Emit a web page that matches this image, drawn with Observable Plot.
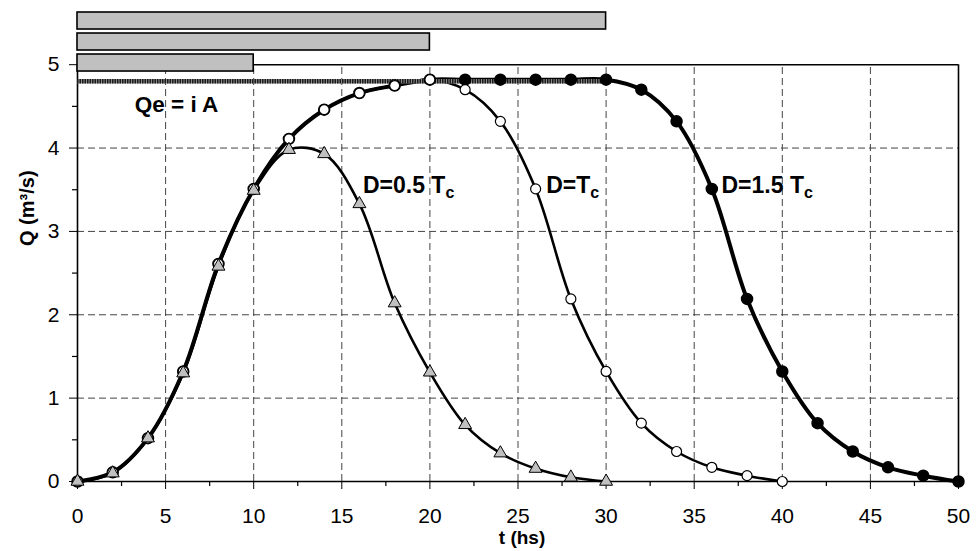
<!DOCTYPE html>
<html><head><meta charset="utf-8">
<script src="https://cdn.jsdelivr.net/npm/d3@7"></script>
<script src="https://cdn.jsdelivr.net/npm/@observablehq/plot@0.6"></script>
<style>
body{margin:0;background:#fff}
#chart svg{font-family:"Liberation Sans", Arial, sans-serif}
</style>
</head><body><div id="chart"></div>
<script>
// ---- data ----
const tHalf = [0,2,4,6,8,10,12,14,16,18,20,22,24,26,28,30];
const qHalf = [0,0.10,0.52,1.30,2.58,3.49,3.98,3.93,3.33,2.14,1.31,0.68,0.34,0.155,0.05,0];
const tFull = [0,2,4,6,8,10,12,14,16,18,20,22,24,26,28,30,32,34,36,38,40];
const qFull = [0,0.11,0.52,1.32,2.61,3.51,4.11,4.46,4.66,4.75,4.82,4.70,4.32,3.51,2.19,1.32,0.70,0.36,0.17,0.07,0];
const tLong = [0,2,4,6,8,10,12,14,16,18,20,22,24,26,28,30,32,34,36,38,40,42,44,46,48,50];
const qLong = [0,0.11,0.52,1.32,2.61,3.51,4.11,4.46,4.66,4.75,4.82,4.82,4.82,4.82,4.82,4.82,4.70,4.32,3.51,2.19,1.32,0.70,0.36,0.17,0.07,0];
const rainDur = [10, 20, 30];
const qe = 4.8;
const qeLabel = "Qe = i A";
const curveLabels = ["D=0.5 T", "D=T", "D=1.5 T"];
const curveSub = "c";
const xTicks = [0,5,10,15,20,25,30,35,40,45,50];
const yTicks = [0,1,2,3,4,5];
const xTitle = "t (hs)";
const yTitle = "Q (m³/s)";

// ---- layout / annotation placement ----
const labelPos = [{t:16.2,q:3.55},{t:26.6,q:3.55},{t:36.55,q:3.55}];
const qePos = {t:5.62, q:4.52};
const rainBase = 4.918, rainH = 0.204, rainStep = 0.252;
const yPx = 5.65/471, xPx = 50/881;

const half = tHalf.map((t,i)=>({t,q:qHalf[i]}));
const full = tFull.map((t,i)=>({t,q:qFull[i]}));
const long = tLong.map((t,i)=>({t,q:qLong[i]}));
const rain = rainDur.map((d,i)=>({d, y1:rainBase+i*rainStep, y2:rainBase+i*rainStep+rainH}));
const labels = curveLabels.map((s,i)=>({s, t:labelPos[i].t, q:labelPos[i].q}));
const xMinor = d3.range(2.5, 50, 5);
const yMinor = d3.range(0.5, 5, 1);

const chart = Plot.plot({
  width: 976, height: 551,
  marginLeft: 77, marginRight: 18, marginTop: 10, marginBottom: 70,
  style: {fontFamily: "Liberation Sans, Arial, sans-serif", fontSize: "21px", color: "#000", background: "#fff", overflow: "visible"},
  x: {domain: [0,50], ticks: xTicks, tickSize: 8, tickPadding: 19, tickFormat: d => String(d), label: null},
  y: {domain: [0,5.65], ticks: yTicks, tickSize: 8, tickPadding: 10, tickFormat: d => String(d), label: null},
  marks: [
    // grid
    Plot.ruleX(xTicks.slice(1,-1), {y1: 0, y2: 5, stroke: "#444", strokeDasharray: "7,4", strokeWidth: 1}),
    Plot.ruleY(yTicks.slice(1,-1), {x1: 0, x2: 50, stroke: "#444", strokeDasharray: "7,4", strokeWidth: 1}),
    // minor ticks
    Plot.ruleX(xMinor, {y1: 0, y2: -5*yPx, stroke: "#000", strokeWidth: 1.2}),
    Plot.ruleY(yMinor, {x1: 0, x2: -5*xPx, stroke: "#000", strokeWidth: 1.2}),
    // frame
    Plot.ruleY([0, 5], {x1: 0, x2: 50, stroke: "#000", strokeWidth: 1.6}),
    Plot.ruleX([0, 50], {y1: 0, y2: 5, stroke: "#000", strokeWidth: 1.6}),
    // curves
    Plot.line(long, {x: "t", y: "q", curve: "catmull-rom", stroke: "#000", strokeWidth: 4}),
    Plot.line(full, {x: "t", y: "q", curve: "catmull-rom", stroke: "#000", strokeWidth: 2.6}),
    Plot.line(half, {x: "t", y: "q", curve: "catmull-rom", stroke: "#000", strokeWidth: 2.6}),
    // Qe line
    Plot.ruleY([qe], {x1: 0, x2: d3.max(rainDur), stroke: "#8a8a8a", strokeWidth: 4.5}),
    Plot.ruleY([qe], {x1: 0, x2: d3.max(rainDur), stroke: "#1a1a1a", strokeWidth: 4.5, strokeDasharray: "1.5,1"}),
    // rain bars
    Plot.rect(rain, {x1: 0, x2: "d", y1: "y1", y2: "y2", fill: "#c0c0c0", stroke: "#000", strokeWidth: 1.6}),
    // markers
    Plot.dot(long, {x: "t", y: "q", r: 5.5, fill: "#000", stroke: "#000"}),
    Plot.dot(full, {x: "t", y: "q", r: 5, fill: "#fff", stroke: "#000", strokeWidth: 1.2}),
    Plot.dot(half, {x: "t", y: "q", r: 4.8, symbol: "triangle", fill: "#c0c0c0", stroke: "#000", strokeWidth: 1}),
    // annotations
    Plot.text([qeLabel], {x: qePos.t, y: qePos.q, text: d => d, fontWeight: "bold", fontSize: 22.5}),
    Plot.text(labels, {x: "t", y: "q", text: "s", textAnchor: "start", fontWeight: "bold", fontSize: 23}),
    // axis titles
    Plot.text([xTitle], {frameAnchor: "bottom", dx: 4, dy: 62, text: d => d, fontWeight: "bold", fontSize: 19}),
    Plot.text([yTitle], {frameAnchor: "left", dx: -50, rotate: -90, text: d => d, fontWeight: "bold", fontSize: 20})
  ]
});

// subscripts
d3.select(chart).selectAll("text").each(function() {
  if (curveLabels.includes(this.textContent)) {
    d3.select(this).append("tspan").attr("font-size", "16px").attr("dy", "0.3em").text(curveSub);
  }
});
// tick label size
d3.select(chart).selectAll("g").filter(function() {
  const a = this.getAttribute("aria-label") || "";
  return a.includes("axis");
}).attr("font-size", 21).selectAll("text").attr("font-size", 21).style("font-size", "21px");
document.getElementById("chart").appendChild(chart);
</script>
</body></html>
